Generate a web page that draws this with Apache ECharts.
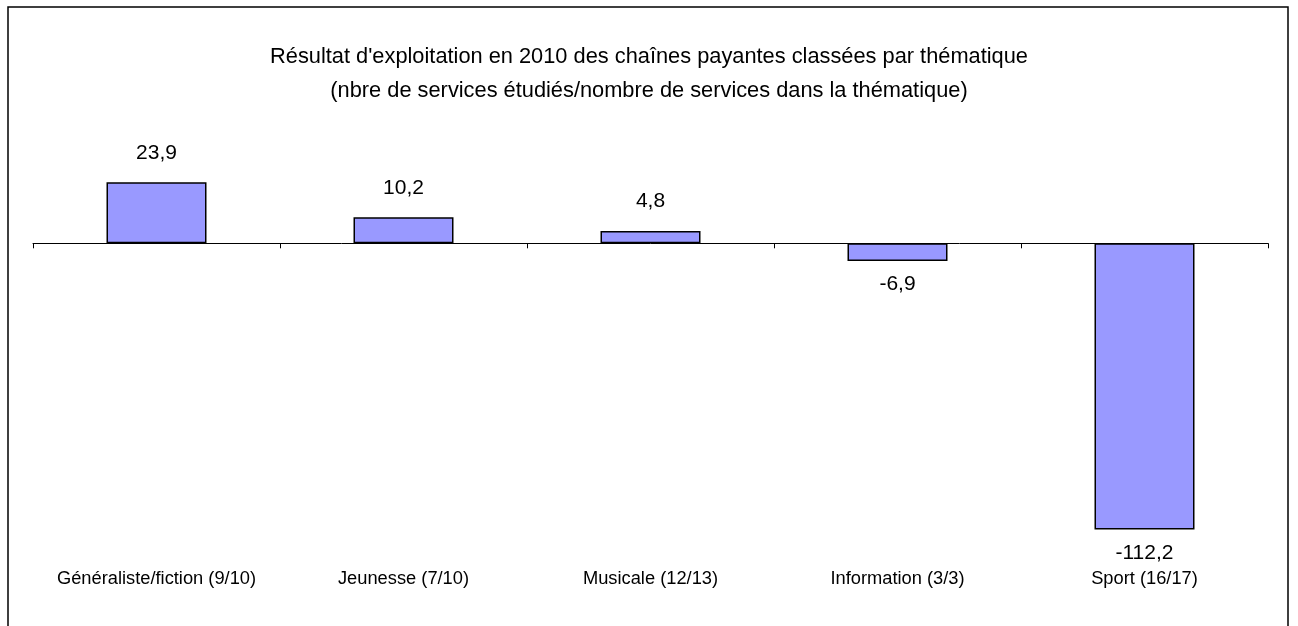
<!DOCTYPE html>
<html>
<head>
<meta charset="utf-8">
<script src="https://cdn.jsdelivr.net/npm/echarts@6/dist/echarts.min.js"></script>
<style>
  html, body { margin: 0; padding: 0; background: #fff; }
  #chart { width: 1298px; height: 626px; }
</style>
</head>
<body>
<div id="chart"></div>
<script>
const titleLines = [
  "Résultat d'exploitation en 2010 des chaînes payantes classées par thématique",
  "(nbre de services étudiés/nombre de services dans la thématique)"
]
const categories = [
  'Généraliste/fiction (9/10)',
  'Jeunesse (7/10)',
  'Musicale (12/13)',
  'Information (3/3)',
  'Sport (16/17)'
]
const values = [23.9, 10.2, 4.8, -6.9, -112.2]

const font = '"Liberation Sans", Arial, sans-serif'
const fmt = v => String(v).replace('.', ',')

const chart = echarts.init(document.getElementById('chart'))
chart.setOption({
  animation: false,
  textStyle: { fontFamily: font },
  title: {
    text: titleLines.join('\n'),
    left: 'center',
    top: 35,
    textStyle: {
      fontFamily: font,
      fontSize: 21.8,
      fontWeight: 'normal',
      color: '#000',
      lineHeight: 34
    }
  },
  graphic: [{
    type: 'rect',
    shape: { x: 8, y: 7, width: 1280, height: 700 },
    style: { fill: 'none', stroke: '#000', lineWidth: 1.5 },
    silent: true
  }],
  grid: {
    left: 33,
    right: 30,
    top: 166.8,
    bottom: 89.45,
    containLabel: false,
    outerBoundsMode: 'none'
  },
  xAxis: {
    type: 'category',
    data: categories,
    axisLine: { onZero: true, lineStyle: { color: '#000', width: 1 } },
    axisTick: { show: true, length: 5, alignWithLabel: false, lineStyle: { color: '#000' } },
    axisLabel: {
      margin: 33,
      fontFamily: font,
      fontSize: 18.3,
      color: '#000',
      interval: 0
    },
    splitLine: { show: false }
  },
  yAxis: {
    type: 'value',
    min: -115,
    max: 30,
    show: false
  },
  series: [{
    type: 'bar',
    data: values.map(v => ({
      value: v,
      label: {
        position: v >= 0 ? 'top' : 'bottom',
        distance: v >= 0 ? 19 : 13
      }
    })),
    barWidth: 100,
    itemStyle: {
      color: '#9999FF',
      borderColor: '#000',
      borderWidth: 1.5
    },
    label: {
      show: true,
      fontFamily: font,
      fontSize: 21,
      color: '#000',
      formatter: p => fmt(p.value)
    }
  }]
})
</script>
</body>
</html>
